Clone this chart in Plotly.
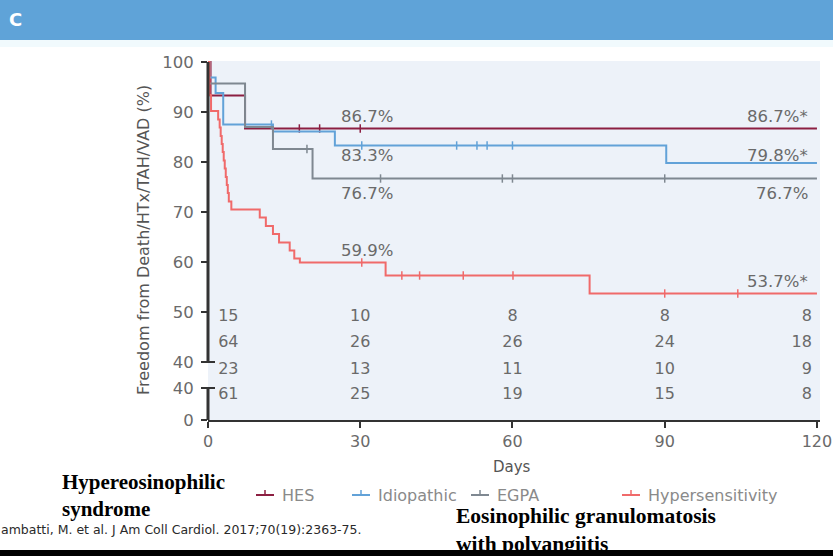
import plotly.graph_objects as go

# ---- number at risk ----
days_at_risk = [0, 30, 60, 90, 120]
risk_hes = [15, 10, 8, 8, 8]
risk_idio = [64, 26, 26, 24, 18]
risk_egpa = [23, 13, 11, 10, 9]
risk_hyper = [61, 25, 19, 15, 8]

# ---- Kaplan-Meier step curves (day of event, survival % after event) ----
hes_t = [0, 0.5, 7.3]
hes_s = [100, 93.3, 86.7]
hes_cens = [18, 22, 30]

idio_t = [0, 0.3, 1.5, 3.0, 12.8, 25.0, 90.3]
idio_s = [100, 96.9, 93.8, 87.5, 86.1, 83.3, 79.8]
idio_cens = [12.5, 30.3, 49, 53, 55, 60]

egpa_t = [0, 0.2, 7.3, 12.8, 20.6]
egpa_s = [100, 95.7, 87.0, 82.6, 76.7]
egpa_cens = [19.5, 34, 58, 60, 90]

hyper_t = [0, 0.3, 0.6, 2.0, 2.3, 2.5, 2.7, 2.9, 3.1, 3.3, 3.5, 3.7, 3.9, 4.1, 4.6,
           10.2, 11.4, 12.8, 14.0, 16.1, 17.0, 18.1, 35.0, 75.2]
hyper_s = [100, 93.4, 90.2, 88.5, 86.9, 85.2, 83.6, 82.0, 80.3, 78.7, 77.0, 75.4, 73.8,
           72.1, 70.5, 68.9, 67.2, 65.6, 63.9, 62.3, 60.7, 59.9, 57.3, 53.7]
hyper_cens = [30.3, 38.2, 41.7, 50.3, 60.1, 90, 104.4]

follow_up = 120
stars = {"HES": "*", "Idiopathic": "*", "EGPA": "", "Hypersensitivity": "*"}

groups = [
    # name, times, survival, censored, at risk, colour
    ("HES", hes_t, hes_s, hes_cens, risk_hes, "#8c1f42"),
    ("Idiopathic", idio_t, idio_s, idio_cens, risk_idio, "#62a2d8"),
    ("EGPA", egpa_t, egpa_s, egpa_cens, risk_egpa, "#7f8891"),
    ("Hypersensitivity", hyper_t, hyper_s, hyper_cens, risk_hyper, "#f06a6a"),
]

# label offsets (in % units) for the 30-day and end-of-follow-up values
lab30_dy = [2.5, -1.9, -2.9, 2.5]
lab120_dy = [2.5, 1.6, -2.9, 2.5]
# number-at-risk row heights on the value axis
risk_rows = [49.0, 43.8, 38.4, 33.4]

# broken axis: upper part is 40-100 %, lower "40" and "0" sit below the break
y_lo = 28.4
y_break = 34.8
TXT = "#6a6a6a"
FONT = "DejaVu Sans"


def surv_at(t, s, day):
    v = s[0]
    for ti, si in zip(t, s):
        if ti <= day:
            v = si
    return v


fig = go.Figure()
for i, (name, t, s, cens, risk, col) in enumerate(groups):
    fig.add_trace(go.Scatter(
        x=t + [follow_up], y=s + [s[-1]], mode="lines", name=name,
        line=dict(color=col, width=2, shape="hv"), showlegend=False,
        cliponaxis=False,
    ))
    fig.add_trace(go.Scatter(
        x=cens, y=[surv_at(t, s, c) for c in cens], mode="markers",
        marker=dict(symbol="line-ns", size=6, line=dict(color=col, width=1.5)),
        showlegend=False, hoverinfo="skip",
    ))
    v30 = surv_at(t, s, 30)
    v120 = surv_at(t, s, follow_up)
    fig.add_annotation(x=31.3, y=v30 + lab30_dy[i], text=f"{v30:.1f}%",
                       xanchor="center", yanchor="middle", showarrow=False,
                       font=dict(family=FONT, size=16.5, color=TXT))
    fig.add_annotation(x=118.6, y=v120 + lab120_dy[i], xanchor="right", yanchor="middle",
                       text=f"{v120:.1f}%{stars[name]}", showarrow=False,
                       font=dict(family=FONT, size=16.5, color=TXT))
    # number at risk row
    fig.add_trace(go.Scatter(
        x=[2.0] + days_at_risk[1:-1] + [119.0],
        y=[risk_rows[i]] * len(days_at_risk),
        mode="text", text=[str(n) for n in risk],
        textposition=["middle right", "middle center", "middle center",
                      "middle center", "middle left"],
        textfont=dict(family=FONT, size=16, color=TXT),
        showlegend=False, hoverinfo="skip",
    ))

W, H = 833, 556
L, R, T, B = 208, 13, 61, 136
pw = W - L - R
ph = H - T - B


def px(xp):
    return (xp - L) / pw


def py(yp):
    return (H - B - yp) / ph


shapes = [
    # header band
    dict(type="rect", xref="paper", yref="paper", x0=px(-2), x1=px(W + 2),
         y0=py(40), y1=py(-2), fillcolor="#5fa3d8", line_width=0, layer="below"),
    dict(type="rect", xref="paper", yref="paper", x0=px(-2), x1=px(W + 2),
         y0=py(47), y1=py(40), fillcolor="#f1fafd", line_width=0, layer="below"),
    # broken y axis
    dict(type="line", xref="paper", yref="y", x0=0, x1=0, y0=40, y1=100,
         line=dict(color="#333333", width=3)),
    dict(type="line", xref="paper", yref="y", x0=0, x1=0, y0=y_lo, y1=y_break,
         line=dict(color="#333333", width=3)),
    dict(type="line", xref="paper", yref="y", x0=px(202), x1=px(215), y0=40, y1=40,
         line=dict(color="#333333", width=2)),
    dict(type="line", xref="paper", yref="y", x0=px(202), x1=px(215), y0=y_break,
         y1=y_break, line=dict(color="#333333", width=2)),
    # bottom border
    dict(type="rect", xref="paper", yref="paper", x0=px(-2), x1=px(W + 2),
         y0=py(H + 4), y1=py(550), fillcolor="#000000", line_width=0),
]

annotations = [
    dict(xref="paper", yref="paper", x=px(7), y=py(20), xanchor="left", yanchor="middle",
         text="<b>C</b>", showarrow=False, font=dict(family=FONT, size=18, color="#ffffff")),
    dict(xref="paper", yref="paper", x=px(143), y=py(240), textangle=-90,
         xanchor="center", yanchor="middle",
         text="Freedom from Death/HTx/TAH/VAD (%)", showarrow=False,
         font=dict(family=FONT, size=16, color="#555555")),
    dict(xref="x", yref="paper", x=60, y=py(467), xanchor="center", yanchor="middle",
         text="Days", showarrow=False,
         font=dict(family=FONT, size=15, color="#555555")),
    dict(xref="paper", yref="paper", x=px(-1), y=py(529), xanchor="left", yanchor="middle",
         text="ambatti, M. et al. J Am Coll Cardiol. 2017;70(19):2363-75.",
         showarrow=False, font=dict(family=FONT, size=12.5, color="#2a2a2a")),
    dict(xref="paper", yref="paper", x=px(60), y=py(495), xanchor="left", yanchor="middle",
         align="left", text="<b>Hypereosinophilic<br>syndrome</b>", showarrow=False,
         font=dict(family="Liberation Serif", size=21, color="#000000")),
    dict(xref="paper", yref="paper", x=px(454), y=py(530), xanchor="left", yanchor="middle",
         align="left", text="<b>Eosinophilic granulomatosis<br>with polyangiitis</b>",
         showarrow=False,
         font=dict(family="Liberation Serif", size=21.5, color="#000000")),
]

# legend keys: short line with a censor tick, then the group name
legend_text_start = [280, 376, 495, 646]
legend_y = 495
for (name, _, _, _, _, col), xs in zip(groups, legend_text_start):
    x1 = xs - 6
    x0 = x1 - 18
    shapes.append(dict(type="line", xref="paper", yref="paper", x0=px(x0), x1=px(x1),
                       y0=py(legend_y), y1=py(legend_y), line=dict(color=col, width=2)))
    shapes.append(dict(type="line", xref="paper", yref="paper", x0=px((x0 + x1) / 2),
                       x1=px((x0 + x1) / 2), y0=py(legend_y), y1=py(legend_y - 5),
                       line=dict(color=col, width=1.5)))
    annotations.append(dict(xref="paper", yref="paper", x=px(xs), y=py(legend_y),
                            xanchor="left", yanchor="middle", text=name, showarrow=False,
                            font=dict(family=FONT, size=16, color="#8a8a8a")))

for a in annotations:
    fig.add_annotation(**a)

fig.update_layout(
    width=W, height=H, autosize=False,
    margin=dict(l=L, r=R, t=T, b=B),
    paper_bgcolor="#ffffff", plot_bgcolor="#edf2f9",
    shapes=shapes,
    xaxis=dict(range=[0, 120.6], tickvals=days_at_risk, ticks="outside", ticklen=6,
               tickwidth=2, tickcolor="#333333", showline=True, linecolor="#333333",
               linewidth=2, showgrid=False, zeroline=False, automargin=False,
               ticklabeloverflow="allow",
               tickfont=dict(family=FONT, size=16, color=TXT)),
    yaxis=dict(range=[y_lo, 100.2],
               tickvals=[100, 90, 80, 70, 60, 50, 40, y_break, y_lo],
               ticktext=["100", "90", "80", "70", "60", "50", "40", "40", "0"],
               ticks="outside", ticklen=6, tickwidth=2, tickcolor="#333333",
               ticklabelstandoff=4, automargin=False,
               showline=False, showgrid=False, zeroline=False,
               tickfont=dict(family=FONT, size=16.5, color=TXT)),
    showlegend=False,
)

fig.write_html("out.html", config={"responsive": False})
